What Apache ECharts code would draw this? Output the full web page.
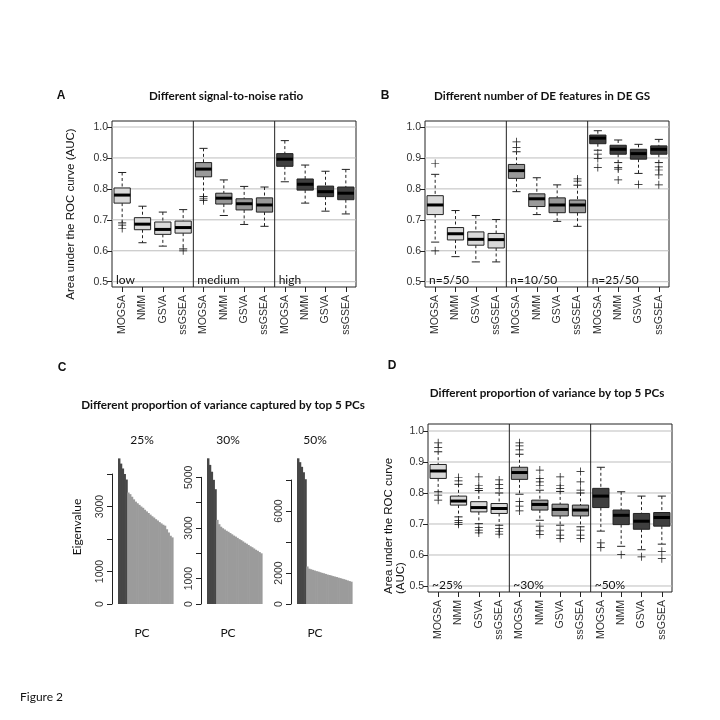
<!DOCTYPE html>
<html><head><meta charset="utf-8">
<script src="https://cdn.jsdelivr.net/npm/echarts@6/dist/echarts.min.js"></script>
<style>html,body{margin:0;padding:0;background:#fff}#c{width:720px;height:720px}</style>
</head><body><div id="c"></div>
<script>
// ---------- DATA ----------
const methods = ['MOGSA', 'NMM', 'GSVA', 'ssGSEA'];
const aGroups = ['low', 'medium', 'high'];
const bGroups = ['n=5/50', 'n=10/50', 'n=25/50'];
const dGroups = ['~25%', '~30%', '~50%'];
const aucTicks = [0.5, 0.6, 0.7, 0.8, 0.9, 1.0];

// box stats: [lower whisker, Q1, median, Q3, upper whisker], 12 boxes (3 groups x 4 methods)
const aStats = [
  [0.690, 0.754, 0.780, 0.803, 0.853], [0.626, 0.668, 0.686, 0.707, 0.744],
  [0.615, 0.653, 0.669, 0.693, 0.725], [0.606, 0.657, 0.675, 0.696, 0.733],
  [0.775, 0.839, 0.864, 0.885, 0.931], [0.714, 0.751, 0.770, 0.786, 0.829],
  [0.685, 0.732, 0.752, 0.768, 0.808], [0.679, 0.725, 0.748, 0.771, 0.806],
  [0.823, 0.873, 0.896, 0.914, 0.956], [0.754, 0.796, 0.815, 0.832, 0.877],
  [0.728, 0.775, 0.791, 0.809, 0.857], [0.719, 0.765, 0.786, 0.806, 0.863]
];
const aOutliers = [[0, 0.683], [0, 0.672], [3, 0.600], [4, 0.768], [4, 0.762]];

const bStats = [
  [0.628, 0.717, 0.748, 0.778, 0.847], [0.581, 0.635, 0.655, 0.675, 0.730],
  [0.564, 0.618, 0.637, 0.661, 0.714], [0.564, 0.609, 0.636, 0.656, 0.701],
  [0.791, 0.834, 0.859, 0.879, 0.920], [0.717, 0.743, 0.768, 0.784, 0.836],
  [0.695, 0.723, 0.748, 0.771, 0.813], [0.679, 0.723, 0.748, 0.764, 0.812],
  [0.925, 0.946, 0.964, 0.974, 0.988], [0.885, 0.912, 0.928, 0.941, 0.958],
  [0.850, 0.896, 0.914, 0.928, 0.944], [0.885, 0.912, 0.928, 0.939, 0.960]
];
const bOutliers = [[0, 0.882], [0, 0.600], [4, 0.952], [4, 0.934], [7, 0.832], [7, 0.825],
  [8, 0.912], [8, 0.898], [8, 0.869], [9, 0.869], [9, 0.864], [9, 0.829], [10, 0.814],
  [11, 0.871], [11, 0.861], [11, 0.845], [11, 0.813]];

const dStats = [
  [0.804, 0.847, 0.871, 0.892, 0.933], [0.723, 0.761, 0.774, 0.790, 0.828],
  [0.701, 0.739, 0.753, 0.772, 0.808], [0.696, 0.734, 0.750, 0.766, 0.800],
  [0.796, 0.844, 0.866, 0.883, 0.925], [0.712, 0.745, 0.763, 0.777, 0.809],
  [0.696, 0.726, 0.747, 0.764, 0.805], [0.691, 0.726, 0.745, 0.761, 0.800],
  [0.677, 0.753, 0.790, 0.815, 0.883], [0.628, 0.698, 0.728, 0.745, 0.804],
  [0.617, 0.683, 0.709, 0.734, 0.790], [0.635, 0.693, 0.721, 0.737, 0.790]
];
const dOutliers = [[0, 0.962], [0, 0.947], [0, 0.793], [0, 0.777],
  [1, 0.850], [1, 0.839], [1, 0.712], [1, 0.705], [1, 0.699],
  [2, 0.852], [2, 0.825], [2, 0.815], [2, 0.689], [2, 0.680], [2, 0.671],
  [3, 0.842], [3, 0.828], [3, 0.815], [3, 0.685], [3, 0.675], [3, 0.667],
  [4, 0.962], [4, 0.952], [4, 0.939], [4, 0.772], [4, 0.758], [4, 0.742],
  [5, 0.874], [5, 0.847], [5, 0.836], [5, 0.825], [5, 0.693], [5, 0.678], [5, 0.666],
  [6, 0.852], [6, 0.825], [6, 0.815], [6, 0.680], [6, 0.664], [6, 0.653],
  [7, 0.869], [7, 0.836], [7, 0.809], [7, 0.680], [7, 0.664], [7, 0.653],
  [8, 0.639], [8, 0.624], [9, 0.601], [10, 0.594], [11, 0.612], [11, 0.588]];

// Panel C: eigenvalues of 30 PCs (first 5 = top PCs)
const pcLabels = ['25%', '30%', '50%'];
const eig25 = [4480, 4320, 4170, 4000, 3830,
  3430, 3380, 3300, 3220, 3150, 3100, 3050, 3000, 2960, 2900, 2850, 2800, 2750,
  2700, 2660, 2610, 2570, 2520, 2480, 2440, 2410, 2300, 2200, 2100, 2050];
const eig30 = [5750, 5490, 5220, 4900, 4530,
  3320, 3150, 3050, 2990, 2940, 2890, 2850, 2800, 2750, 2700, 2660, 2610, 2560,
  2520, 2470, 2420, 2380, 2330, 2280, 2240, 2190, 2140, 2100, 2050, 2000];
const eig50 = [9400, 9150, 8850, 8500, 8050,
  2420, 2280, 2240, 2200, 2160, 2120, 2090, 2050, 2010, 1980, 1940, 1900, 1870,
  1840, 1800, 1770, 1740, 1700, 1670, 1630, 1600, 1560, 1520, 1480, 1440];
const eigLabels = [[0, 1000, 3000], [0, 1000, 3000, 5000], [0, 2000, 6000]];

// ---------- STYLE ----------
const INK = '#222';
const SANS = 'Liberation Sans';
const HUM = 'Lato';
const paletteA = ['#d9d9d9', '#999999', '#3f3f3f'];
const TOP_PC = '#474747', REST_PC = '#9b9b9b';

const cats = [];
for (let g = 0; g < 3; g++) methods.forEach(m => cats.push(m + '|' + g));

const boxGrids = [
  { left: 112, top: 121, width: 244, height: 166, min: 0.4829, max: 1.0194, groups: aGroups, stats: aStats, out: aOutliers },
  { left: 425, top: 121, width: 244, height: 166, min: 0.4829, max: 1.0194, groups: bGroups, stats: bStats, out: bOutliers },
  { left: 428, top: 424, width: 244, height: 168, min: 0.4806, max: 1.0226, groups: dGroups, stats: dStats, out: dOutliers }
];

const grids = [], xAxes = [], yAxes = [], series = [];

boxGrids.forEach((p, gi) => {
  grids.push({ left: p.left, top: p.top, width: p.width, height: p.height, show: true,
    borderColor: INK, borderWidth: 1, backgroundColor: 'transparent' });
  xAxes.push({ gridIndex: gi, type: 'category', data: cats,
    axisLine: { show: false },
    axisTick: { show: true, alignWithLabel: true, interval: 0, length: 5, lineStyle: { color: INK } },
    axisLabel: { interval: 0, rotate: 90, margin: 8, fontFamily: SANS, fontSize: 10.5, color: '#333',
      formatter: v => v.split('|')[0] } });
  yAxes.push({ gridIndex: gi, type: 'value', min: p.min, max: p.max,
    axisLine: { show: false }, splitLine: { show: false },
    axisTick: { show: true, customValues: aucTicks, length: 5, lineStyle: { color: INK } },
    axisLabel: { customValues: aucTicks, formatter: v => v.toFixed(1), fontFamily: SANS, fontSize: 10.5, color: '#333', margin: 4 } });

  // gridlines, dividers, group labels
  series.push({ type: 'custom', xAxisIndex: gi, yAxisIndex: gi, z: 1, silent: true, clip: false,
    data: [[0]],
    renderItem: (params, api) => {
      const cs = params.coordSys;
      const band = api.size([1, 0])[0];
      const ch = [];
      aucTicks.forEach(v => {
        const y = api.coord([0, v])[1];
        ch.push({ type: 'line', shape: { x1: cs.x, y1: y, x2: cs.x + cs.width, y2: y },
          style: { stroke: '#bdbdbd', lineWidth: 1 } });
      });
      [4, 8].forEach(i => {
        const x = api.coord([i, 0.5])[0] - band / 2;
        ch.push({ type: 'line', shape: { x1: x, y1: cs.y, x2: x, y2: cs.y + cs.height },
          style: { stroke: INK, lineWidth: 1 } });
      });
      p.groups.forEach((t, k) => {
        const x = api.coord([k * 4, 0.5])[0] - band / 2 + 4;
        ch.push({ type: 'text', x: x, y: cs.y + cs.height - 0.5,
          style: { text: t, fontFamily: HUM, fontSize: 12, fill: '#111', align: 'left', verticalAlign: 'bottom' } });
      });
      return { type: 'group', children: ch };
    } });

  // boxes
  series.push({ type: 'custom', xAxisIndex: gi, yAxisIndex: gi, z: 3, clip: false,
    data: p.stats.map((s, i) => [i].concat(s)),
    renderItem: (params, api) => {
      const i = api.value(0);
      const lo = api.value(1), q1 = api.value(2), md = api.value(3), q3 = api.value(4), hi = api.value(5);
      const band = api.size([1, 0])[0];
      const bw = band * 0.8, cw = bw * 0.5;
      const cx = api.coord([i, md])[0];
      const Y = v => api.coord([i, v])[1];
      const fill = paletteA[Math.floor(i / 4)];
      const dash = { stroke: INK, lineWidth: 1, lineDash: [3, 2.5] };
      const solid = { stroke: INK, lineWidth: 1 };
      return { type: 'group', children: [
        { type: 'line', shape: { x1: cx, y1: Y(hi), x2: cx, y2: Y(q3) }, style: dash },
        { type: 'line', shape: { x1: cx, y1: Y(q1), x2: cx, y2: Y(lo) }, style: dash },
        { type: 'line', shape: { x1: cx - cw / 2, y1: Y(hi), x2: cx + cw / 2, y2: Y(hi) }, style: solid },
        { type: 'line', shape: { x1: cx - cw / 2, y1: Y(lo), x2: cx + cw / 2, y2: Y(lo) }, style: solid },
        { type: 'rect', shape: { x: cx - bw / 2, y: Y(q3), width: bw, height: Y(q1) - Y(q3) },
          style: { fill: fill, stroke: INK, lineWidth: 1 } },
        { type: 'line', shape: { x1: cx - bw / 2, y1: Y(md), x2: cx + bw / 2, y2: Y(md) },
          style: { stroke: '#000', lineWidth: 3 } }
      ] };
    } });

  // outliers
  series.push({ type: 'scatter', xAxisIndex: gi, yAxisIndex: gi, z: 4,
    symbol: 'path://M-1,-0.09H1V0.09H-1Z M-0.09,-1H0.09V1H-0.09Z', symbolSize: 8,
    itemStyle: { color: '#111', opacity: 1 }, data: p.out });
});

// Panel C bar grids
const barGrids = [
  { left: 118, width: 55, data: eig25, max: 4000, interval: 1000 },
  { left: 207, width: 55, data: eig30, max: 5000, interval: 1000 },
  { left: 297, width: 55, data: eig50, max: 8000, interval: 2000 }
];
const pxPerUnit = [130 / 4000, 126.7 / 5000, 124 / 8000];
barGrids.forEach((b, k) => {
  const gi = 3 + k;
  const h = b.max * pxPerUnit[k];
  grids.push({ left: b.left, top: 604 - h, width: b.width, height: h, show: false });
  xAxes.push({ gridIndex: gi, type: 'category', data: b.data.map((_, i) => 'PC' + (i + 1)),
    axisLine: { show: false }, axisTick: { show: false }, axisLabel: { show: false } });
  yAxes.push({ gridIndex: gi, type: 'value', min: 0, max: b.max, interval: b.interval, offset: 6,
    axisLine: { show: true, lineStyle: { color: INK, width: 1 } }, splitLine: { show: false },
    axisTick: { show: true, length: 5, lineStyle: { color: INK } },
    axisLabel: { rotate: 90, margin: 6, fontFamily: SANS, fontSize: 10.5, color: '#333',
      formatter: v => eigLabels[k].indexOf(v) >= 0 ? String(v) : '' } });
  // contiguous bars (barplot with no spacing)
  series.push({ type: 'custom', xAxisIndex: gi, yAxisIndex: gi, clip: false, silent: true, z: 2,
    data: b.data.map((v, i) => [i, v]),
    renderItem: (params, api) => {
      const i = api.value(0), v = api.value(1);
      const band = api.size([1, 0])[0];
      const top = api.coord([i, v]), base = api.coord([i, 0]);
      return { type: 'rect',
        shape: { x: top[0] - band / 2, y: top[1], width: band + 0.6, height: base[1] - top[1] },
        style: { fill: i < 5 ? TOP_PC : REST_PC } };
    } });
});

// ---------- TEXT ----------
const T = (text, x, y, o) => Object.assign({ type: 'text', x: x, y: y, silent: true,
  style: Object.assign({ text: text, fill: '#111', align: 'center', verticalAlign: 'middle',
    fontFamily: HUM, fontSize: 12 }, (o && o.style) || {}) }, (o && o.el) || {});
const bold = (s) => ({ style: { fontWeight: 'bold', fontSize: s } });

const graphic = [
  T('A', 61, 96, { style: { fontFamily: SANS, fontWeight: 'bold', fontSize: 12 } }),
  T('Different signal-to-noise ratio', 226, 96, bold(11.7)),
  T('B', 385, 96, { style: { fontFamily: SANS, fontWeight: 'bold', fontSize: 12 } }),
  T('Different number of DE features in DE GS', 542, 96, bold(11.7)),
  T('C', 62, 368, { style: { fontFamily: SANS, fontWeight: 'bold', fontSize: 12 } }),
  T('Different proportion of variance captured by top 5 PCs', 223, 405, bold(11.7)),
  T('D', 392, 366, { style: { fontFamily: SANS, fontWeight: 'bold', fontSize: 12 } }),
  T('Different proportion of variance by top 5 PCs', 547, 393, bold(11.7)),
  T('Area under the ROC curve (AUC)', 71, 214, { style: { fontFamily: SANS, fontSize: 11.5 }, el: { rotation: Math.PI / 2 } }),
  T('Area under the ROC curve\n(AUC)', 395, 594, { style: { fontFamily: SANS, fontSize: 11.5, align: 'left', lineHeight: 12 }, el: { rotation: Math.PI / 2 } }),
  T('Eigenvalue', 77, 527, { el: { rotation: Math.PI / 2 } }),
  T('Figure 2', 20, 697, { style: { align: 'left' } })
];
[142, 228, 315].forEach((x, k) => {
  graphic.push(T(pcLabels[k], x, 440));
  graphic.push(T('PC', x, 633));
});

const chart = echarts.init(document.getElementById('c'), null, { renderer: 'canvas' });
chart.setOption({
  animation: false,
  backgroundColor: '#fff',
  grid: grids, xAxis: xAxes, yAxis: yAxes, series: series, graphic: graphic
});
</script></body></html>
